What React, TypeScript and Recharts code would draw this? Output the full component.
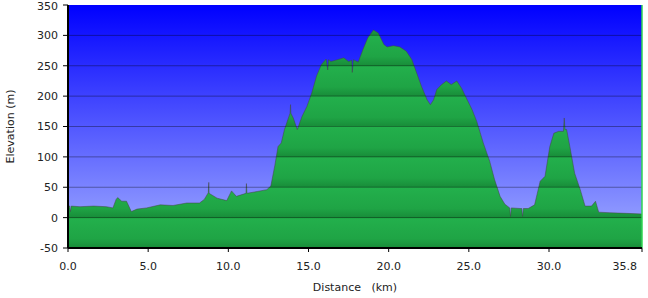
import { AreaChart, Area, XAxis, YAxis, CartesianGrid, ReferenceLine } from 'recharts';

// distance along the route (km) and elevation (m)
const distanceKm = [
  0.0, 0.1, 0.15, 0.2, 0.75, 1.6, 2.4, 2.8, 3.0, 3.1, 3.35, 3.65, 3.95, 4.3, 4.9, 5.75, 6.55, 7.4, 8.2,
  8.5, 8.75, 8.78, 8.8, 9.3, 9.9, 10.2, 10.5, 11.1, 11.13, 11.16, 11.8, 12.4, 12.65, 12.9, 13.1, 13.3,
  13.5, 13.85, 13.88, 13.9, 14.05, 14.3, 14.6, 14.9, 15.2, 15.5, 15.8, 16.1, 16.2, 16.25, 16.4, 16.8,
  17.2, 17.5, 17.7, 17.73, 17.8, 18.1, 18.4, 18.7, 19.05, 19.35, 19.7, 19.9, 20.3, 20.7, 21.1, 21.45,
  21.75, 22.05, 22.4, 22.6, 22.8, 23.0, 23.3, 23.6, 23.9, 24.25, 24.55, 24.9, 25.2, 25.5, 25.9, 26.3,
  26.6, 26.95, 27.25, 27.55, 27.6, 27.65, 28.2, 28.3, 28.35, 28.4, 28.7, 29.1, 29.45, 29.75, 30.05,
  30.3, 30.6, 30.9, 30.95, 31.0, 31.1, 31.3, 31.6, 31.95, 32.25, 32.65, 32.9, 33.1, 33.8, 34.85, 35.8,
];
const elevationM = [
  20, 19, 10, 19, 18, 19, 18, 16, 30, 33, 27, 27, 10, 14, 16, 21, 20, 24, 24,
  30, 41, 58, 40, 32, 28, 44, 35, 40, 56, 40, 43, 46, 52, 86, 117, 123,
  145, 172, 186, 172, 164, 145, 167, 183, 205, 233, 252, 261, 243, 260, 257, 260,
  263, 257, 259, 239, 260, 256, 277, 296, 309, 304, 285, 281, 283, 281, 274, 260,
  238, 216, 194, 186, 194, 211, 219, 225, 219, 225, 213, 194, 178, 158, 123, 93,
  63, 35, 22, 16, 2, 16, 15, 15, 2, 15, 15, 21, 60, 68, 117,
  139, 142, 142, 164, 145, 145, 117, 73, 46, 19, 19, 27, 9, 8, 7, 6,
];

const xTicks = [0, 5, 10, 15, 20, 25, 30, 35.8];
const yTicks = [-50, 0, 50, 100, 150, 200, 250, 300, 350];

const data = distanceKm.map((km, i) => ({ km, elev: elevationM[i] }));

const font = { fontFamily: 'DejaVu Sans', fontSize: 11, fill: '#222' };

// last distance label sits left of its tick so it stays inside the picture
function DistanceTick(props: any) {
  const { x, y, payload, index } = props;
  const last = index === xTicks.length - 1;
  return (
    <text x={last ? x + 3 : x} y={y + 4} dy="0.71em" textAnchor={last ? 'end' : 'middle'} {...font}>
      {Number(payload.value).toFixed(1)}
    </text>
  );
}

export default function App() {
  return (
    <div style={{ position: 'absolute', left: 0, top: 0, background: '#fff' }}>
      <AreaChart width={648} height={298} data={data} margin={{ top: 5, right: 6, bottom: 0, left: 0 }}>
        <defs>
          <linearGradient id="sky" x1="0" y1="0" x2="0" y2="1">
            <stop offset="0" stopColor="#0000ff" />
            <stop offset="1" stopColor="#a4b0ff" />
          </linearGradient>
          <linearGradient id="ground" gradientUnits="userSpaceOnUse" x1="0" y1="217.6" x2="0" y2="247.975" spreadMethod="repeat">
            <stop offset="0" stopColor="#23b04c" />
            <stop offset="0.7" stopColor="#1fa445" />
            <stop offset="1" stopColor="#188c39" />
          </linearGradient>
        </defs>
        <CartesianGrid horizontal={false} vertical={false} fill="url(#sky)" fillOpacity={1} />
        <XAxis
          dataKey="km"
          type="number"
          domain={[0, 35.8]}
          ticks={xTicks}
          height={50}
          tickSize={4}
          tickMargin={6}
          tick={<DistanceTick />}
          axisLine={{ stroke: '#000', strokeWidth: 2 }}
          tickLine={{ stroke: '#000' }}
          label={{ value: 'Distance \u00a0 (km)', position: 'insideBottom', offset: 7, style: font }}
        />
        <YAxis
          type="number"
          domain={[-50, 350]}
          ticks={yTicks}
          width={68}
          tickSize={5}
          tickMargin={5}
          tick={font}
          axisLine={{ stroke: '#000', strokeWidth: 2 }}
          tickLine={{ stroke: '#000' }}
          label={{ value: 'Elevation (m)', angle: -90, position: 'insideLeft', offset: 10, style: { ...font, textAnchor: 'middle' } }}
        />
        <Area
          type="linear"
          dataKey="elev"
          baseValue={-50}
          fill="url(#ground)"
          fillOpacity={1}
          stroke="#444"
          strokeOpacity={0.5}
          strokeWidth={1}
          isAnimationActive={false}
        />
        {yTicks.slice(1, -1).map((v) => (
          <ReferenceLine key={v} y={v} stroke="#000" strokeOpacity={0.35} />
        ))}
        <ReferenceLine x={35.8} stroke="#2fd452" strokeWidth={1.5} />
      </AreaChart>
    </div>
  );
}
